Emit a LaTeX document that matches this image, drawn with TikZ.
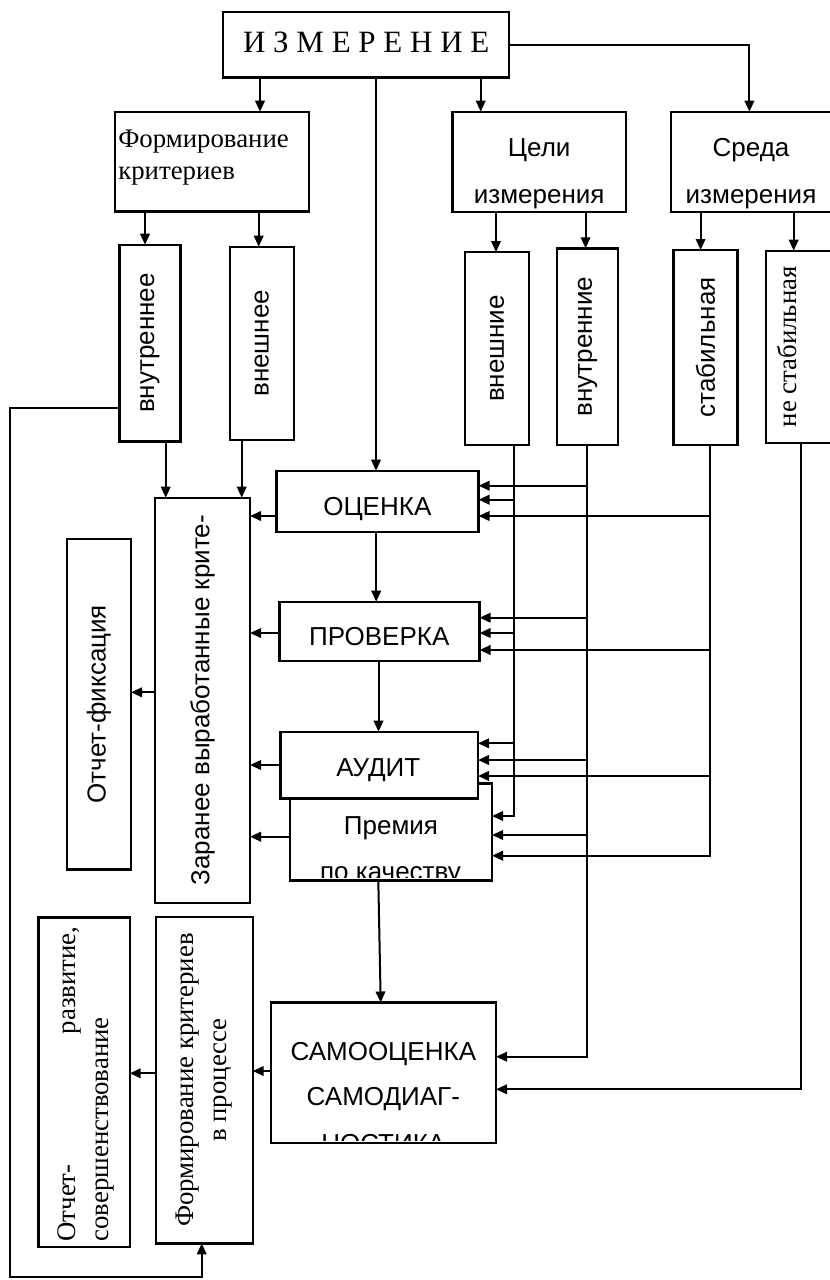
\documentclass[tikz,border=0pt]{standalone}
\usepackage{fontspec}
\setmainfont{Liberation Serif}
\newfontfamily\sansf{Liberation Sans}
\usetikzlibrary{arrows.meta}
\begin{document}
\begin{tikzpicture}[x=1pt,y=-1pt,
  box/.style={draw, line width=2.4pt, fill=white, inner sep=0pt, outer sep=0pt},
  conn/.style={line width=2pt},
  arr/.style={conn, -{Triangle[length=11pt,width=9.5pt]}},
  lbl/.style={inner sep=0pt, outer sep=0pt, font=\sansf\fontsize{26}{30}\selectfont},
  slbl/.style={inner sep=0pt, outer sep=0pt, font=\fontsize{26.8}{30}\selectfont},
]
\useasboundingbox (0,0) rectangle (830,1280);

% ---------- boxes ----------
\node[box, minimum width=286.3, minimum height=65.6] (izm) at (365.85,44.5) {};
\node[box, minimum width=194, minimum height=99.8] (form) at (212,161.6) {};
\node[box, minimum width=173.6, minimum height=100.3] (celi) at (539.2,161.85) {};
\node[box, minimum width=160.7, minimum height=100.3] (sreda) at (751.15,161.85) {};

\node[box, minimum width=60.7, minimum height=196.8] (vnutr) at (149.95,343.1) {};
\node[box, minimum width=63.7, minimum height=193.3] (vnesh) at (261.85,343.35) {};
\node[box, minimum width=63.8, minimum height=193] (vneshnie) at (496.9,348.5) {};
\node[box, minimum width=61, minimum height=196.7] (vnutrennie) at (587.5,346.65) {};
\node[box, minimum width=63.7, minimum height=195] (stab) at (705.45,347.5) {};
\node[box, minimum width=74.3, minimum height=192] (nestab) at (802.85,346.7) {};

\node[box, minimum width=95, minimum height=405] (zaranee) at (202.5,700.2) {};
\node[box, minimum width=64, minimum height=330.3] (otchfix) at (99,704.15) {};

\node[box, minimum width=202, minimum height=61] (ocenka) at (377.5,501.2) {};
\node[box, minimum width=200.1, minimum height=59] (proverka) at (379.55,631.2) {};
\node[box, minimum width=202, minimum height=97] (premia) at (391,831.8) {};
\node[box, minimum width=197.4, minimum height=66.6] (audit) at (379.3,765) {};
\node[box, minimum width=225, minimum height=140.5] (samo) at (383.5,1072.75) {};

\node[box, minimum width=96.7, minimum height=326.6] (formproc) at (204.35,1080) {};
\node[box, minimum width=91.4, minimum height=329.4] (otchsov) at (84,1082) {};

% ---------- labels ----------
\node[inner sep=0pt, anchor=base, font=\fontsize{31}{36}\selectfont] (l_izm) at (366.2,52.3) {И З М Е Р Е Н И Е};
\node[slbl, anchor=base west] (l_form1) at (118.3,147.7) {Формирование};
\node[slbl, anchor=base west] (l_form2) at (118.3,179) {критериев};
\node[lbl, anchor=base] (l_celi1) at (539.2,156.7) {Цели};
\node[lbl, anchor=base] (l_celi2) at (539.2,203.3) {измерения};
\node[lbl, anchor=base] (l_sreda1) at (751,156.7) {Среда};
\node[lbl, anchor=base] (l_sreda2) at (751,203.3) {измерения};

\node[lbl, rotate=90] (l_vnutr) at (vnutr.center) {внутреннее};
\node[lbl, rotate=90] (l_vnesh) at (vnesh.center) {внешнее};
\node[lbl, rotate=90] (l_vneshnie) at (vneshnie.center) {внешние};
\node[lbl, rotate=90] (l_vnutrennie) at (vnutrennie.center) {внутренние};
\node[lbl, rotate=90] (l_stab) at (stab.center) {стабильная};
\node[slbl, rotate=90] (l_nestab) at (787,346.7) {не стабильная};

\node[lbl, rotate=90] (l_zaranee) at (zaranee.center) {Заранее выработанные крите-};
\node[lbl, rotate=90] (l_otchfix) at (otchfix.center) {Отчет-фиксация};

\node[lbl, anchor=base] (l_ocenka) at (377.3,515) {ОЦЕНКА};
\node[lbl, anchor=base] (l_proverka) at (379.2,645) {ПРОВЕРКА};
\node[lbl, anchor=base] (l_audit) at (378.3,776) {АУДИТ};

\begin{scope}
  \clip (290,783.3) rectangle (492,877);
  \node[lbl, anchor=base] (l_premia1) at (391,834.3) {Премия};
  \node[lbl, anchor=base] (l_premia2) at (390.5,880.5) {по качеству};
\end{scope}

\begin{scope}
  \clip (271,1002.5) rectangle (496,1140.5);
  \node[lbl, anchor=base] (l_samo1) at (383.3,1060) {САМООЦЕНКА};
  \node[lbl, anchor=base] (l_samo2) at (383.3,1105.7) {САМОДИАГ-};
  \node[lbl, anchor=base] (l_samo3) at (383.3,1152.5) {НОСТИКА};
\end{scope}

\node[inner sep=0pt, rotate=90, align=center, font=\fontsize{26.8}{33.4}\selectfont]
  (l_formproc) at (formproc.center) {Формирование критериев\\в процессе};
\node[inner sep=0pt, rotate=90, align=left, text width=315pt, font=\fontsize{26.8}{33}\selectfont]
  (l_otchsov) at (85.5,1084) {Отчет-\hfill развитие,\\совершенствование};

% ---------- x and y carriers for connectors ----------
\coordinate (xa) at (260,0);
\coordinate (xb) at (376,0);
\coordinate (xc) at (480.7,0);
\coordinate (xd) at (749.4,0);
\coordinate (xe) at (145,0);
\coordinate (xf) at (258.7,0);
\coordinate (xg) at (496,0);
\coordinate (xh) at (585.6,0);
\coordinate (xi) at (700.6,0);
\coordinate (xj) at (793.7,0);
\coordinate (xk) at (165.7,0);
\coordinate (xl) at (241.7,0);
\coordinate (xm) at (376.2,0);
\coordinate (xn) at (378.5,0);
\coordinate (xo) at (378.3,0);
\coordinate (xp) at (380.7,0);
\coordinate (busA) at (513.5,0);
\coordinate (busB) at (586.5,0);
\coordinate (busC) at (709.5,0);
\coordinate (busD) at (800.5,0);
\coordinate (xloop) at (10,0);
\coordinate (xret) at (201.7,0);

\coordinate (yA1) at (0,499.7);
\coordinate (yA2) at (0,633);
\coordinate (yA3) at (0,743.3);
\coordinate (yA4) at (0,816);
\coordinate (yB1) at (0,485.7);
\coordinate (yB2) at (0,617.7);
\coordinate (yB3) at (0,760);
\coordinate (yB4) at (0,835);
\coordinate (yB5) at (0,1056.7);
\coordinate (yC1) at (0,516);
\coordinate (yC2) at (0,650);
\coordinate (yC3) at (0,776);
\coordinate (yC4) at (0,855.7);
\coordinate (yD) at (0,1089.3);
\coordinate (yL1) at (0,516);
\coordinate (yL2) at (0,633);
\coordinate (yL3) at (0,765);
\coordinate (yL4) at (0,836.7);
\coordinate (yL5) at (0,692.3);
\coordinate (yL6) at (0,1071);
\coordinate (yL7) at (0,1073.3);
\coordinate (yloop) at (0,407.7);
\coordinate (ybot) at (0,1277);

% ---------- top level ----------
\draw[arr] (izm.south -| xa) -- (xa |- form.north);
\draw[arr] (izm.south -| xb) -- (xb |- ocenka.north);
\draw[arr] (izm.south -| xc) -- (xc |- celi.north);
\draw[arr] (izm.east) -| (xd |- sreda.north);

\draw[arr] (form.south -| xe) -- (xe |- vnutr.north);
\draw[arr] (form.south -| xf) -- (xf |- vnesh.north);
\draw[arr] (celi.south -| xg) -- (xg |- vneshnie.north);
\draw[arr] (celi.south -| xh) -- (xh |- vnutrennie.north);
\draw[arr] (sreda.south -| xi) -- (xi |- stab.north);
\draw[arr] (sreda.south -| xj) -- (xj |- nestab.north);

\draw[arr] (vnutr.south -| xk) -- (xk |- zaranee.north);
\draw[arr] (vnesh.south -| xl) -- (xl |- zaranee.north);

% ---------- main chain ----------
\draw[arr] (ocenka.south -| xm) -- (xm |- proverka.north);
\draw[arr] (proverka.south -| xn) -- (xn |- audit.north);
\draw[arr] (premia.south -| xo) -- (xp |- samo.north);

% ---------- buses from the goal and environment boxes ----------
\draw[arr] (busA |- vneshnie.south) |- (premia.east |- yA4);
\draw[arr] (busA |- yA1) -- (ocenka.east |- yA1);
\draw[arr] (busA |- yA2) -- (proverka.east |- yA2);
\draw[arr] (busA |- yA3) -- (audit.east |- yA3);

\draw[arr] (busB |- vnutrennie.south) |- (samo.east |- yB5);
\draw[arr] (busB |- yB1) -- (ocenka.east |- yB1);
\draw[arr] (busB |- yB2) -- (proverka.east |- yB2);
\draw[arr] (busB |- yB3) -- (audit.east |- yB3);
\draw[arr] (busB |- yB4) -- (premia.east |- yB4);

\draw[arr] (busC |- stab.south) |- (premia.east |- yC4);
\draw[arr] (busC |- yC1) -- (ocenka.east |- yC1);
\draw[arr] (busC |- yC2) -- (proverka.east |- yC2);
\draw[arr] (busC |- yC3) -- (audit.east |- yC3);

\draw[arr] (busD |- nestab.south) |- (samo.east |- yD);

% ---------- outputs to the left ----------
\draw[arr] (ocenka.west |- yL1) -- (zaranee.east |- yL1);
\draw[arr] (proverka.west |- yL2) -- (zaranee.east |- yL2);
\draw[arr] (audit.west |- yL3) -- (zaranee.east |- yL3);
\draw[arr] (premia.west |- yL4) -- (zaranee.east |- yL4);
\draw[arr] (zaranee.west |- yL5) -- (otchfix.east |- yL5);
\draw[arr] (samo.west |- yL6) -- (formproc.east |- yL6);
\draw[arr] (formproc.west |- yL7) -- (otchsov.east |- yL7);

% ---------- feedback loop ----------
\draw[arr] (vnutr.west |- yloop) -| (xloop |- ybot) -| (xret |- formproc.south);
\end{tikzpicture}
\end{document}
